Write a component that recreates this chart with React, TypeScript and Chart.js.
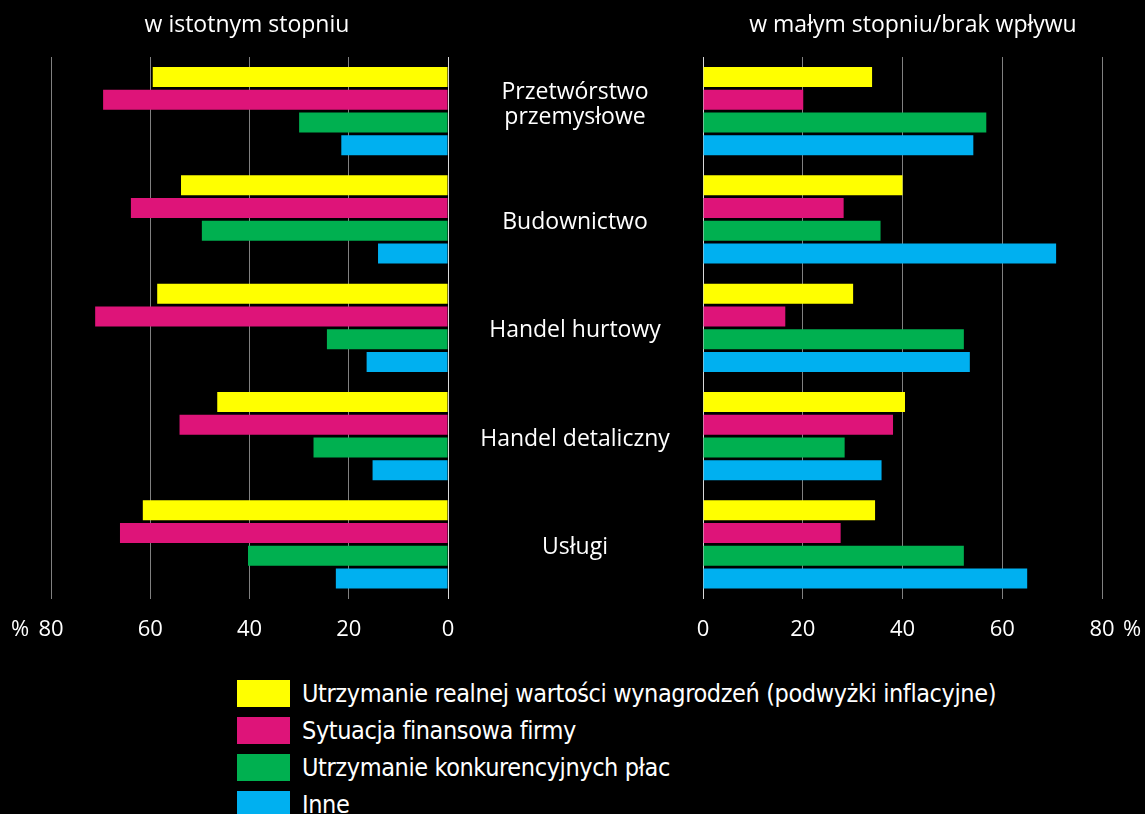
import React, { useEffect, useRef } from 'react';
import { Chart, registerables } from 'chart.js';

Chart.register(...registerables);

// ---------- data ----------
const categories: string[][] = [
  ['Przetwórstwo', 'przemysłowe'],
  ['Budownictwo'],
  ['Handel hurtowy'],
  ['Handel detaliczny'],
  ['Usługi'],
];

const seriesNames = [
  'Utrzymanie realnej wartości wynagrodzeń (podwyżki inflacyjne)',
  'Sytuacja finansowa firmy',
  'Utrzymanie konkurencyjnych płac',
  'Inne',
];

const leftTitle = 'w istotnym stopniu';
const rightTitle = 'w małym stopniu/brak wpływu';

// "w istotnym stopniu"
const leftYellow = [59.5, 53.8, 58.6, 46.5, 61.5];
const leftPink = [69.5, 63.9, 71.1, 54.1, 66.1];
const leftGreen = [30.0, 49.6, 24.4, 27.1, 40.3];
const leftBlue = [21.5, 14.1, 16.4, 15.2, 22.6];

// "w małym stopniu/brak wpływu"
const rightYellow = [33.9, 40.0, 30.1, 40.5, 34.5];
const rightPink = [20.1, 28.2, 16.5, 38.1, 27.6];
const rightGreen = [56.8, 35.6, 52.3, 28.4, 52.3];
const rightBlue = [54.2, 70.8, 53.5, 35.8, 65.0];

const axisMin = 0;
const axisMax = 80;
const axisStep = 20;

// ---------- styles ----------
const colors = ['#FFFF00', '#DE1479', '#00B050', '#00B0F0'];
const FONT = '"Open Sans", "Noto Sans", sans-serif';
const LEGEND_FONT = '"Liberation Sans Narrow", "DejaVu Sans Condensed", "Open Sans", sans-serif';
const TICK_SIZE = 22;
const TICK_PAD = 18;

const W = 1145;
const H = 814;
const CHART_H = 661;

type Side = 'left' | 'right';

function panelText(side: Side) {
  return {
    id: 'panelText_' + side,
    afterDraw(chart: any) {
      const { ctx, chartArea, scales } = chart;
      ctx.save();
      ctx.fillStyle = '#ffffff';
      ctx.textAlign = 'center';
      ctx.textBaseline = 'middle';
      // panel title
      ctx.font = `23px ${FONT}`;
      if (side === 'left') ctx.fillText(leftTitle, 247, 25);
      else ctx.fillText(rightTitle, 465, 25);
      // percent sign next to 80
      ctx.font = `${TICK_SIZE}px ${FONT}`;
      const x80 = scales.x.getPixelForValue(axisMax);
      const ty = scales.x.top + TICK_PAD + (TICK_SIZE * 1.2) / 2;
      ctx.fillText('%', side === 'left' ? x80 - 31 : x80 + 30, ty);
      // category labels in the middle gap
      if (side === 'right') {
        ctx.font = `23px ${FONT}`;
        const cx = chartArea.left - 128;
        categories.forEach((lines, i) => {
          const cy = scales.y.getPixelForValue(i);
          if (lines.length === 1) {
            ctx.fillText(lines[0], cx, cy + 3);
          } else {
            const lh = 25;
            const start = cy - 6.5 - ((lines.length - 1) * lh) / 2;
            lines.forEach((l, k) => ctx.fillText(l, cx, start + k * lh));
          }
        });
      }
      ctx.restore();
    },
  };
}

function makeChart(canvas: HTMLCanvasElement, side: Side) {
  const values =
    side === 'left'
      ? [leftYellow, leftPink, leftGreen, leftBlue]
      : [rightYellow, rightPink, rightGreen, rightBlue];
  return new Chart(canvas, {
    type: 'bar',
    data: {
      labels: categories,
      datasets: seriesNames.map((name, i) => ({
        label: name,
        data: values[i],
        backgroundColor: colors[i],
        borderWidth: 0,
        barPercentage: 0.88,
        categoryPercentage: 0.84,
      })),
    },
    options: {
      indexAxis: 'y',
      responsive: false,
      animation: false,
      devicePixelRatio: 1,
      layout: {
        padding:
          side === 'left'
            ? { left: 51, right: 25, top: 57, bottom: 0 }
            : { left: 255, right: 43, top: 57, bottom: 0 },
      },
      plugins: {
        legend: { display: false },
        tooltip: { enabled: false },
        title: { display: false },
      },
      scales: {
        x: {
          min: axisMin,
          max: axisMax,
          reverse: side === 'left',
          ticks: {
            stepSize: axisStep,
            color: '#ffffff',
            font: { family: FONT, size: TICK_SIZE },
            padding: TICK_PAD,
          },
          grid: {
            color: (c: any) => (c.tick && c.tick.value === 0 ? '#d9d9d9' : '#808080'),
            lineWidth: 1,
            drawTicks: false,
          },
          border: { display: false },
        },
        y: { display: false },
      },
    } as any,
    plugins: [panelText(side)],
  });
}

export default function App() {
  const leftRef = useRef<HTMLCanvasElement>(null);
  const rightRef = useRef<HTMLCanvasElement>(null);

  useEffect(() => {
    const l = makeChart(leftRef.current!, 'left');
    const r = makeChart(rightRef.current!, 'right');
    return () => {
      l.destroy();
      r.destroy();
    };
  }, []);

  return (
    <div
      style={{
        position: 'absolute',
        left: 0,
        top: 0,
        width: W,
        height: H,
        background: '#000',
        overflow: 'hidden',
      }}
    >
      <canvas
        ref={leftRef}
        width={473}
        height={CHART_H}
        style={{ position: 'absolute', left: 0, top: 0 }}
      />
      <canvas
        ref={rightRef}
        width={697}
        height={CHART_H}
        style={{ position: 'absolute', left: 448, top: 0 }}
      />
      {seriesNames.map((name, i) => (
        <div
          key={name}
          style={{
            position: 'absolute',
            left: 237,
            top: 680 + i * 37,
            height: 27,
            display: 'flex',
            alignItems: 'center',
          }}
        >
          <div style={{ width: 53, height: 27, background: colors[i] }} />
          <span
            style={{
              marginLeft: 12,
              color: '#fff',
              fontFamily: LEGEND_FONT,
              fontSize: 25,
              letterSpacing: '-0.4px',
              lineHeight: '27px',
              whiteSpace: 'nowrap',
            }}
          >
            {name}
          </span>
        </div>
      ))}
    </div>
  );
}
